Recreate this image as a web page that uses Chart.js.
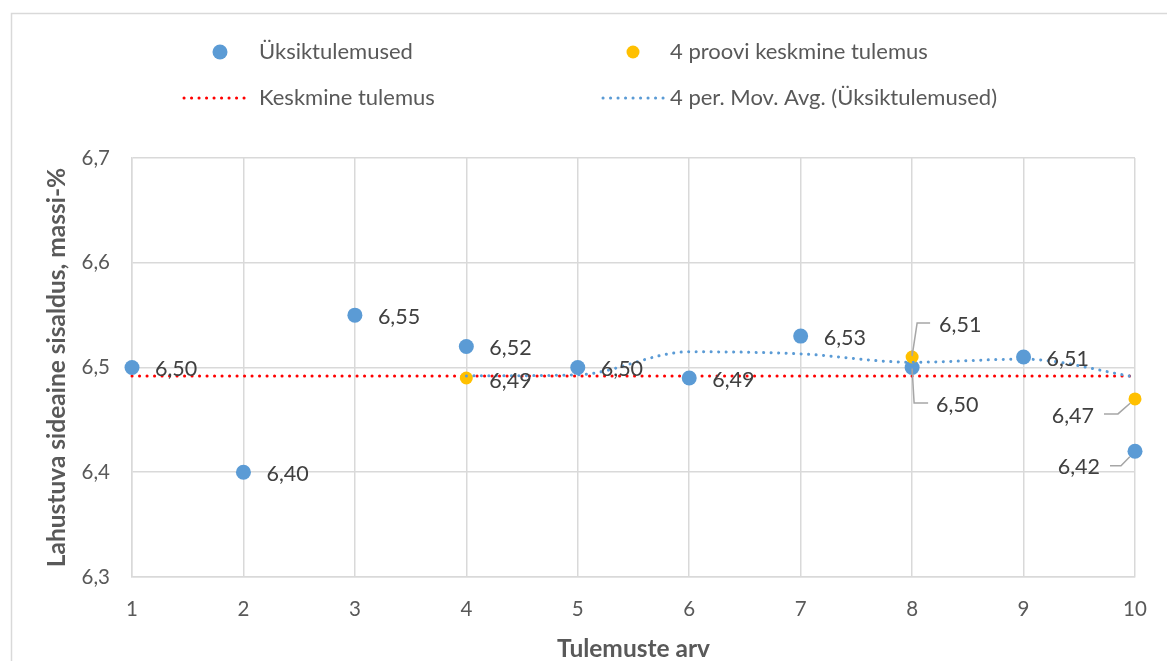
<!DOCTYPE html>
<html>
<head>
<meta charset="utf-8">
<script src="https://cdn.jsdelivr.net/npm/chart.js@4/dist/chart.umd.min.js"></script>
<style>
  html, body { margin: 0; padding: 0; background: #ffffff; }
  #wrap { width: 1167px; height: 661px; position: relative; }
</style>
</head>
<body>
<div id="wrap"><canvas id="c" width="1167" height="661"></canvas></div>
<script>
// Measurement runs and results
const runs = [1, 2, 3, 4, 5, 6, 7, 8, 9, 10];
const singleResults = [6.50, 6.40, 6.55, 6.52, 6.50, 6.49, 6.53, 6.50, 6.51, 6.42];

// Average of four samples
const avgRuns = [4, 8, 10];
const avgResults = [6.49, 6.51, 6.47];

// Overall mean result (horizontal reference line)
const meanRuns = [1, 10];
const meanResults = [6.492, 6.492];

// 4-period moving average of the single results
const movAvgRuns = [4, 5, 6, 7, 8, 9, 10];
const movAvgValues = [6.492, 6.493, 6.515, 6.513, 6.505, 6.508, 6.491];

// Axis ranges
const xTicks = [1, 10];
const yTicks = [6.3, 6.7];

const FONT = 'Lato, "Open Sans", "DejaVu Sans", sans-serif';
const GRID = '#d9d9d9';
const TEXT = '#595959';
const LABEL = '#404040';

const toPoints = (xs, ys) => xs.map((x, i) => ({ x: x, y: ys[i] }));
const fmt = (v, d) => v.toFixed(d).replace('.', ',');

// Light outer frame around the whole chart
const framePlugin = {
  id: 'frame',
  beforeDraw(chart) {
    const ctx = chart.ctx;
    ctx.save();
    ctx.fillStyle = '#ffffff';
    ctx.fillRect(0, 0, chart.width, chart.height);
    ctx.strokeStyle = GRID;
    ctx.lineWidth = 1.5;
    ctx.strokeRect(11.5, 13.5, chart.width + 20, chart.height + 20);
    ctx.restore();
  }
};

// Two-row legend laid out in two columns
const legendPlugin = {
  id: 'gridLegend',
  afterDraw(chart, args, opts) {
    const ctx = chart.ctx;
    const ds = chart.data.datasets;
    ctx.save();
    ctx.font = opts.fontSize + 'px ' + FONT;
    ctx.fillStyle = TEXT;
    ctx.textBaseline = 'middle';
    opts.items.forEach(item => {
      const d = ds[item.dataset];
      if (item.kind === 'dot') {
        ctx.beginPath();
        ctx.fillStyle = d.backgroundColor;
        ctx.arc(item.mx, item.y, d.pointRadius, 0, Math.PI * 2);
        ctx.fill();
      } else {
        ctx.beginPath();
        ctx.strokeStyle = d.borderColor;
        ctx.lineWidth = d.borderWidth;
        ctx.lineCap = 'round';
        ctx.setLineDash(d.borderDash);
        ctx.moveTo(item.mx, item.y);
        ctx.lineTo(item.mx2, item.y);
        ctx.stroke();
        ctx.setLineDash([]);
      }
      ctx.fillStyle = TEXT;
      ctx.textAlign = 'left';
      ctx.fillText(d.label, item.tx, item.y);
    });
    ctx.restore();
  }
};

// Value labels next to the points, some with leader lines
const valueLabelPlugin = {
  id: 'valueLabels',
  afterDatasetsDraw(chart, args, opts) {
    const ctx = chart.ctx;
    ctx.save();
    ctx.font = opts.fontSize + 'px ' + FONT;
    ctx.textBaseline = 'middle';
    Object.keys(opts.plan).forEach(key => {
      const di = Number(key);
      const plan = opts.plan[key];
      const meta = chart.getDatasetMeta(di);
      const data = chart.data.datasets[di].data;
      meta.data.forEach((el, i) => {
        const p = Object.assign({}, plan.base, plan[i] || {});
        const text = fmt(data[i].y, 2);
        if (p.leader) {
          const r = chart.data.datasets[di].pointRadius;
          const [fx, fy] = p.leader[0];
          const len = Math.hypot(fx, fy) || 1;
          ctx.beginPath();
          ctx.strokeStyle = '#a6a6a6';
          ctx.lineWidth = 1.5;
          ctx.moveTo(el.x + fx / len * r, el.y + fy / len * r);
          p.leader.forEach(([lx, ly]) => ctx.lineTo(el.x + lx, el.y + ly));
          ctx.stroke();
        }
        ctx.fillStyle = LABEL;
        ctx.textAlign = p.align || 'left';
        ctx.fillText(text, el.x + p.dx, el.y + p.dy);
      });
    });
    ctx.restore();
  }
};

new Chart(document.getElementById('c'), {
  type: 'scatter',
  data: {
    datasets: [
      {
        label: 'Üksiktulemused',
        data: toPoints(runs, singleResults),
        backgroundColor: '#5B9BD5',
        borderColor: '#5B9BD5',
        pointRadius: 7.5,
        pointBorderWidth: 0,
        showLine: false,
        clip: false,
        order: 3
      },
      {
        label: '4 proovi keskmine tulemus',
        data: toPoints(avgRuns, avgResults),
        backgroundColor: '#FFC000',
        borderColor: '#FFC000',
        pointRadius: 6.5,
        pointBorderWidth: 0,
        showLine: false,
        clip: false,
        order: 2
      },
      {
        label: 'Keskmine tulemus',
        data: toPoints(meanRuns, meanResults),
        showLine: true,
        borderColor: '#FF0000',
        backgroundColor: '#FF0000',
        borderWidth: 3,
        borderDash: [0.1, 7.4],
        borderCapStyle: 'round',
        pointRadius: 0,
        fill: false,
        clip: false,
        order: 4
      },
      {
        label: '4 per. Mov. Avg. (Üksiktulemused)',
        data: toPoints(movAvgRuns, movAvgValues),
        showLine: true,
        borderColor: '#5B9BD5',
        backgroundColor: '#5B9BD5',
        borderWidth: 3,
        borderDash: [0.1, 7.4],
        borderCapStyle: 'round',
        pointRadius: 0,
        cubicInterpolationMode: 'monotone',
        fill: false,
        clip: false,
        order: 1
      }
    ]
  },
  options: {
    responsive: false,
    animation: false,
    events: [],
    layout: { padding: { top: 158, right: 32, bottom: 0, left: 0 } },
    plugins: {
      legend: { display: false },
      tooltip: { enabled: false },
      gridLegend: {
        fontSize: 22,
        items: [
          { dataset: 0, kind: 'dot', mx: 220, y: 52, tx: 259 },
          { dataset: 1, kind: 'dot', mx: 633, y: 52, tx: 670 },
          { dataset: 2, kind: 'line', mx: 184, mx2: 251, y: 98, tx: 259 },
          { dataset: 3, kind: 'line', mx: 603, mx2: 665, y: 98, tx: 670 }
        ]
      },
      valueLabels: {
        fontSize: 21.5,
        plan: {
          0: {
            base: { dx: 23, dy: 2 },
            7: { dx: 24, dy: 37.5, leader: [[0, 1], [2, 35.5], [16, 35.5]] },
            9: { dx: -35, dy: 16, align: 'right', leader: [[-14, 14.5], [-14, 14.5], [-25, 14.5]] }
          },
          1: {
            base: { dx: 23, dy: 3 },
            1: { dx: 27, dy: -32, leader: [[0, -1], [5, -34], [18, -34]] },
            2: { dx: -41, dy: 17, align: 'right', leader: [[-17, 15], [-17, 15], [-31, 15]] }
          }
        }
      }
    },
    scales: {
      x: {
        type: 'linear',
        min: xTicks[0],
        max: xTicks[1],
        afterFit: s => { s.height = 84; },
        ticks: { stepSize: 1, color: TEXT, padding: 20, font: { family: FONT, size: 20.5 } },
        grid: { color: GRID, lineWidth: 1.5, drawTicks: false },
        border: { color: GRID, width: 1.5 },
        title: {
          display: true,
          text: 'Tulemuste arv',
          color: TEXT,
          font: { family: FONT, size: 24.5, weight: 'bold', lineHeight: 1.0 },
          padding: { top: 0, bottom: 0 }
        }
      },
      y: {
        min: yTicks[0],
        max: yTicks[1],
        afterFit: s => { s.width = 132; },
        ticks: {
          stepSize: 0.1,
          color: TEXT,
          padding: 22,
          font: { family: FONT, size: 20.5 },
          callback: v => fmt(v, 1)
        },
        grid: { color: GRID, lineWidth: 1.5, drawTicks: false },
        border: { color: GRID, width: 1.5 },
        title: {
          display: true,
          text: 'Lahustuva sideaine sisaldus, massi-%',
          color: TEXT,
          font: { family: FONT, size: 24.5, weight: 'bold', lineHeight: 1.0 },
          padding: { top: 45, bottom: 0 }
        }
      }
    }
  },
  plugins: [framePlugin, legendPlugin, valueLabelPlugin]
});
</script>
</body>
</html>
